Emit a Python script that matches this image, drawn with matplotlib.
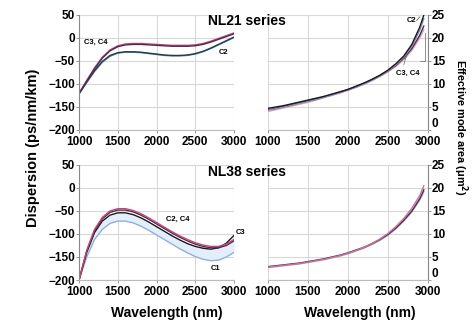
import matplotlib.pyplot as plt

plt.rcParams['font.family'] = ['Liberation Sans', 'DejaVu Sans']
plt.rcParams['font.weight'] = 'bold'

# wavelength grid (nm)
wl = [1000, 1100, 1200, 1300, 1400, 1500, 1600, 1700, 1800, 1900, 2000,
      2100, 2200, 2300, 2400, 2500, 2600, 2700, 2800, 2900, 3000]
wl_a = [1000, 1100, 1200, 1300, 1400, 1500, 1600, 1700, 1800, 1900, 2000,
        2100, 2200, 2300, 2400, 2500, 2600, 2700, 2800, 2900, 2950]

# NL21 dispersion (ps/nm/km)
nl21_d_c4 = [-120, -92, -65, -42, -26, -17, -13, -12, -12, -13, -14,
             -15, -16, -16, -16, -15, -12, -7, -1, 5, 11]
nl21_d_c3 = [-121, -94, -67, -44, -28, -19, -15, -14, -14, -15, -16,
             -17, -18, -18, -18, -17, -14, -9, -3, 3, 9]
nl21_d_c2 = [-122, -97, -73, -53, -40, -33, -31, -31, -32, -34, -36,
             -38, -39, -39, -38, -35, -30, -23, -15, -7, 1]
nl21_d_c1 = [-121, -95, -71, -51, -38, -32, -30, -30, -31, -33, -35,
             -37, -38, -38, -37, -34, -29, -22, -14, -6, 2]

# NL21 effective mode area (um^2)
nl21_a_c2 = [4.7, 5.0, 5.3, 5.7, 6.1, 6.5, 6.9, 7.3, 7.8, 8.3, 8.8,
             9.5, 10.2, 11.0, 11.9, 13.0, 14.4, 16.1, 18.6, 22.4, 25.0]
nl21_a_c1 = [4.3, 4.6, 5.0, 5.4, 5.8, 6.2, 6.6, 7.1, 7.6, 8.1, 8.7,
             9.3, 10.0, 10.8, 11.7, 12.8, 14.1, 15.8, 18.2, 21.7, 24.2]
nl21_a_c3 = [4.0, 4.4, 4.8, 5.2, 5.6, 6.0, 6.5, 7.0, 7.5, 8.0, 8.6,
             9.2, 9.9, 10.7, 11.6, 12.6, 13.8, 15.3, 17.3, 20.0, 21.8]
nl21_a_c4 = [4.4, 4.7, 5.1, 5.5, 5.9, 6.3, 6.7, 7.2, 7.7, 8.2, 8.8,
             9.4, 10.1, 10.9, 11.8, 12.8, 14.0, 15.6, 17.7, 20.6, 22.6]

# NL38 dispersion (ps/nm/km)
nl38_d_c4 = [-200, -135, -90, -64, -50, -45, -45, -49, -56, -65, -75,
             -85, -95, -104, -112, -119, -124, -127, -127, -122, -112]
nl38_d_c2 = [-200, -137, -93, -67, -53, -48, -48, -52, -59, -68, -78,
             -88, -98, -107, -115, -122, -127, -130, -130, -125, -115]
nl38_d_c3 = [-200, -140, -97, -72, -59, -54, -54, -58, -65, -74, -84,
             -94, -104, -113, -121, -127, -131, -133, -130, -120, -103]
nl38_d_c1 = [-200, -150, -112, -90, -77, -72, -72, -76, -83, -92, -102,
             -112, -122, -132, -141, -149, -155, -158, -157, -150, -140]

# NL38 effective mode area (um^2)
nl38_a_c4 = [2.8, 3.0, 3.2, 3.4, 3.6, 3.9, 4.2, 4.5, 4.9, 5.3, 5.8,
             6.4, 7.1, 7.9, 8.9, 10.1, 11.6, 13.4, 15.6, 18.4, 20.5]
nl38_a_c2 = [2.9, 3.1, 3.3, 3.5, 3.7, 4.0, 4.3, 4.6, 5.0, 5.4, 5.9,
             6.5, 7.1, 7.9, 8.8, 9.9, 11.3, 13.0, 15.0, 17.7, 19.6]
nl38_a_c3 = [2.7, 2.9, 3.1, 3.3, 3.5, 3.8, 4.1, 4.4, 4.8, 5.2, 5.7,
             6.3, 6.9, 7.7, 8.6, 9.7, 11.1, 12.8, 14.8, 17.4, 19.2]

c_red = '#c8466e'
c_pur = '#4a2a55'
c_teal = '#4d9c92'
c_navy = '#2c3556'
c_blue = '#8fb0dd'
c_blk = '#1a1a1a'
grid_c = '#d8d8d8'
tick_fs = 8.5

fig = plt.figure(figsize=(4.74, 3.24), dpi=100)
ax_tl = fig.add_axes([0.1667, 0.5988, 0.327, 0.355])
ax_tr = fig.add_axes([0.565, 0.5988, 0.3376, 0.355])
ax_bl = fig.add_axes([0.1667, 0.1358, 0.327, 0.355])
ax_br = fig.add_axes([0.565, 0.1358, 0.3376, 0.355])

for ax in (ax_tl, ax_bl):
    ax.set_xlim(1000, 3000)
    ax.set_ylim(-200, 50)
    ax.set_yticks(range(-200, 51, 50))
    ax.spines['top'].set_visible(False)
    ax.spines['right'].set_visible(False)
    ax.spines['left'].set_color('#888888')
    ax.spines['bottom'].set_color('#bbbbbb')

for ax in (ax_tr, ax_br):
    ax.set_xlim(1000, 3000)
    ax.set_ylim(0, 25)
    ax.set_yticks(range(0, 26, 5))
    ax.yaxis.tick_right()
    ax.spines['top'].set_visible(False)
    ax.spines['left'].set_visible(False)
    ax.spines['right'].set_color('#888888')
    ax.spines['bottom'].set_color('#bbbbbb')

for ax in (ax_tl, ax_tr, ax_bl, ax_br):
    ax.set_xticks(range(1000, 3001, 500))
    ax.grid(True, color=grid_c, linewidth=0.8)
    ax.set_axisbelow(True)
    ax.tick_params(axis='y', labelsize=tick_fs, length=2, width=0.6, pad=1, color='#888888')
    ax.tick_params(axis='x', labelsize=tick_fs, length=2, width=0.6, pad=2.5, color='#888888')
    for lbl in ax.get_xticklabels() + ax.get_yticklabels():
        lbl.set_fontweight('bold')

# keep the "0" of the right axes clear of the "3000" tick label
for ax in (ax_tr, ax_br):
    ax.get_yticklabels()[0].set_verticalalignment('bottom')

# NL21 dispersion
ax_tl.plot(wl, nl21_d_c2, color=c_teal, lw=1.0)
ax_tl.plot(wl, nl21_d_c1, color=c_navy, lw=1.0)
ax_tl.plot(wl, nl21_d_c4, color=c_red, lw=1.0)
ax_tl.plot(wl, nl21_d_c3, color=c_pur, lw=1.0)
ax_tl.text(1070, -12, 'C3, C4', fontsize=5.5, fontweight='bold')
ax_tl.text(2800, -35, 'C2', fontsize=5.5, fontweight='bold')

# NL21 area
ax_tr.plot(wl_a, nl21_a_c3, color='#e6a0b4', lw=1.0)
ax_tr.plot(wl_a, nl21_a_c4, color=c_pur, lw=1.0)
ax_tr.plot(wl_a, nl21_a_c1, color='#7d8fb5', lw=1.0)
ax_tr.plot(wl_a, nl21_a_c2, color=c_blk, lw=1.0)
ax_tr.text(2740, 23.5, 'C2', fontsize=5.5, fontweight='bold')
ax_tr.plot([2860, 2900], [23.8, 24.6], color='#444444', lw=0.5)
ax_tr.text(2600, 12.0, 'C3, C4', fontsize=5.5, fontweight='bold')
ax_tr.plot([2900, 2960, 2960], [15, 15, 21], color='#666666', lw=0.5)
ax_tr.plot([2700, 2740], [14.2, 16.5], color='#666666', lw=0.5)

# NL38 dispersion
ax_bl.fill_between(wl, nl38_d_c3, nl38_d_c1, color='#e4eefa', lw=0)
ax_bl.plot(wl, nl38_d_c1, color=c_blue, lw=1.0)
ax_bl.plot(wl, nl38_d_c3, color=c_blk, lw=1.0)
ax_bl.plot(wl, nl38_d_c2, color=c_pur, lw=1.0)
ax_bl.plot(wl, nl38_d_c4, color=c_red, lw=1.0)
ax_bl.text(2120, -72, 'C2, C4', fontsize=5.5, fontweight='bold')
ax_bl.text(2700, -178, 'C1', fontsize=5.5, fontweight='bold')
ax_bl.text(3020, -100, 'C3', fontsize=5.5, fontweight='bold', clip_on=False)

# NL38 area
ax_br.plot(wl_a, nl38_a_c3, color='#9aa6c8', lw=1.0)
ax_br.plot(wl_a, nl38_a_c2, color=c_pur, lw=1.0)
ax_br.plot(wl_a, nl38_a_c4, color='#d07090', lw=1.0)

fig.text(0.521, 0.935, 'NL21 series', ha='center', va='center', fontsize=10, fontweight='bold')
fig.text(0.521, 0.468, 'NL38 series', ha='center', va='center', fontsize=10, fontweight='bold')

fig.text(0.07, 0.543, 'Dispersion (ps/nm/km)', rotation=90, ha='center', va='center',
         fontsize=10.5, fontweight='bold')
fig.text(0.972, 0.608, 'Effective mode area (\u03bcm$^2$)', rotation=270, ha='center', va='center',
         fontsize=7.8, fontweight='bold')

fig.text(0.352, 0.034, 'Wavelength (nm)', ha='center', va='center', fontsize=10, fontweight='bold')
fig.text(0.76, 0.034, 'Wavelength (nm)', ha='center', va='center', fontsize=10, fontweight='bold')

fig.savefig('out.png', dpi=100)
